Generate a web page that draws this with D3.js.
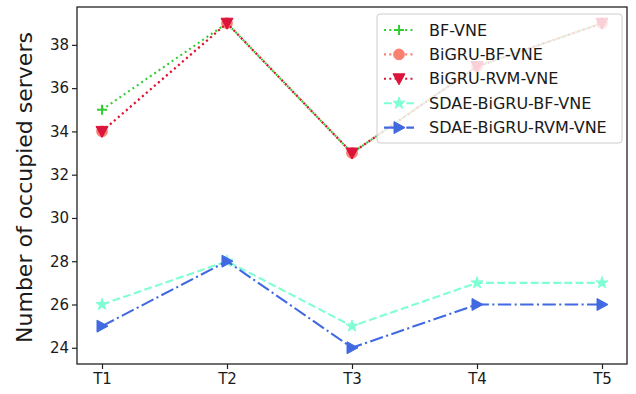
<!DOCTYPE html>
<html><head><meta charset="utf-8">
<script src="https://cdn.jsdelivr.net/npm/d3@7"></script>
<style>body{margin:0;background:#fff}svg{display:block}text{font-family:"DejaVu Sans",sans-serif;fill:#1a1a1a}</style>
</head><body><svg id="c" width="636" height="394"></svg>
<script>
const categories = ["T1","T2","T3","T4","T5"];
const seriesNames = ["BF-VNE","BiGRU-BF-VNE","BiGRU-RVM-VNE","SDAE-BiGRU-BF-VNE","SDAE-BiGRU-RVM-VNE"];
const bfVne = [35,39,33,37,39];
const bigruBfVne = [34,39,33,37,39];
const bigruRvmVne = [34,39,33,37,39];
const sdaeBigruBfVne = [26,28,25,27,27];
const sdaeBigruRvmVne = [25,28,24,26,26];
const yTicks = [24,26,28,30,32,34,36,38];
const yLabel = "Number of occupied servers";

const styles = [
  {color:"#32cd32", dash:"2,3.3", marker:"plus"},
  {color:"#fa8072", dash:"2,3.3", marker:"circle"},
  {color:"#dc143c", dash:"2,3.3", marker:"tridown"},
  {color:"#7fffd4", dash:"7.8,3.4", marker:"star"},
  {color:"#4169e1", dash:"13.4,3.4,2.1,3.4", marker:"triright"}
];
const allSeries = [bfVne,bigruBfVne,bigruRvmVne,sdaeBigruBfVne,sdaeBigruRvmVne];

const L=77,R=627,T=7,B=364;
const svg=d3.select("#c");
const xs=d3.scaleLinear().domain([-0.2,categories.length-1+0.2]).range([L,R]);
const y=d3.scaleLinear().domain([23.25,39.75]).range([B,T]);
const xp = (i)=>xs(i);

function markerPath(type){
  switch(type){
    case "circle": return d3.symbol(d3.symbolCircle,90)();
    case "tridown": return "M-6,-5L6,-5L0,6Z";
    case "triright": return "M-5,-6L-5,6L6,0Z";
    case "star": return d3.symbol(d3.symbolStar,45)();
  }
}
function drawMarker(g,type,color,cx,cy){
  if(type==="plus"){
    g.append("path").attr("d",`M${cx-5},${cy}H${cx+5}M${cx},${cy-5}V${cy+5}`)
      .attr("stroke",color).attr("stroke-width",2).attr("fill","none");
  } else {
    g.append("path").attr("d",markerPath(type)).attr("transform",`translate(${cx},${cy})`)
      .attr("fill",color).attr("stroke",color).attr("stroke-width",1);
  }
}

const plot=svg.append("g");
const line=d3.line().x((d,i)=>xp(i)).y(d=>y(d));
allSeries.forEach((s,k)=>{
  const st=styles[k];
  plot.append("path").datum(s).attr("d",line).attr("fill","none")
    .attr("stroke",st.color).attr("stroke-width",2.1).attr("stroke-dasharray",st.dash);
  s.forEach((v,i)=>drawMarker(plot,st.marker,st.color,xp(i),y(v)));
});

// axes
const ga=svg.append("g").attr("transform",`translate(${L},0)`)
  .call(d3.axisLeft(y).tickValues(yTicks).tickSize(5).tickPadding(3));
ga.select(".domain").remove();
ga.selectAll("text").style("font-size","15px").attr("fill","#1a1a1a");
ga.selectAll("line").attr("stroke","#222").attr("stroke-width",1.2);
const gx=svg.append("g").attr("transform",`translate(0,${B})`);
gx.call(d3.axisBottom(xs).tickValues(d3.range(categories.length)).tickFormat(i=>categories[i]).tickSize(5).tickPadding(4));
gx.select(".domain").remove();
gx.selectAll("text").style("font-size","15px").attr("fill","#1a1a1a");
gx.selectAll("line").attr("stroke","#222").attr("stroke-width",1.2);
svg.append("rect").attr("x",L).attr("y",T).attr("width",R-L).attr("height",B-T)
  .attr("fill","none").attr("stroke","#222").attr("stroke-width",1.3);

svg.append("text").attr("transform",`translate(24,${(T+B)/2+2}) rotate(-90)`)
  .attr("text-anchor","middle").attr("dominant-baseline","central")
  .style("font-size","22px").text(yLabel);

// legend
const lg=svg.append("g");
lg.append("rect").attr("x",377).attr("y",14).attr("width",245).attr("height",129).attr("rx",3)
  .attr("fill","#fff").attr("fill-opacity",0.8).attr("stroke","#ccc").attr("stroke-width",1);
seriesNames.forEach((n,k)=>{
  const st=styles[k];
  const cy=30+k*24.4;
  lg.append("line").attr("x1",384).attr("x2",414).attr("y1",cy).attr("y2",cy)
    .attr("stroke",st.color).attr("stroke-width",2.1).attr("stroke-dasharray",st.dash);
  drawMarker(lg,st.marker,st.color,399,cy);
  lg.append("text").attr("x",429).attr("y",cy).attr("dominant-baseline","central")
    .style("font-size","16px").text(n);
});
</script></body></html>
